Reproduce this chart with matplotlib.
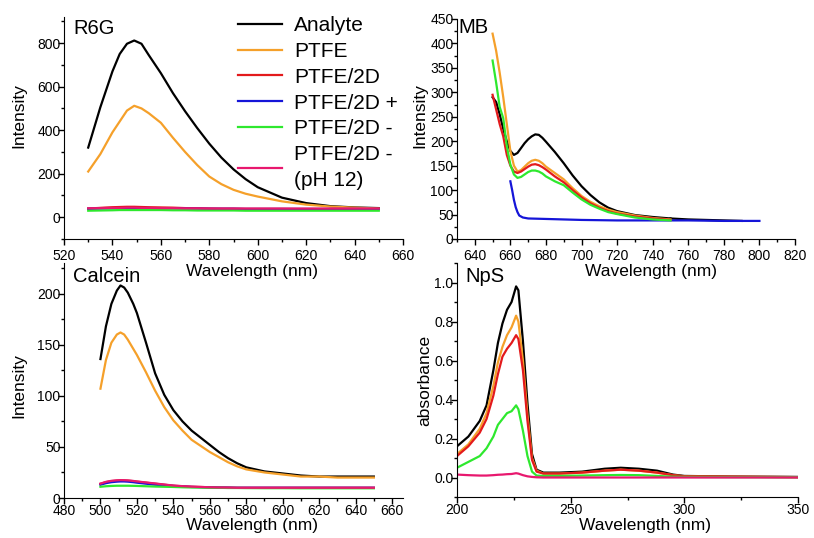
import matplotlib
matplotlib.use("Agg")
from matplotlib import pyplot as plt
from matplotlib.ticker import MultipleLocator

plt.rcParams["font.family"] = ["Liberation Sans", "DejaVu Sans"]

names = ["Analyte", "PTFE", "PTFE/2D", "PTFE/2D +", "PTFE/2D -", "PTFE/2D -\n(pH 12)"]
colors = ["black", "#F5A02A", "#E31A1C", "#1515D8", "#2EE82E", "#E8186E"]

# R6G
r6g_nm = [530, 535, 540, 543, 546, 549, 552, 555, 560, 565, 570, 575, 580, 585, 590,
          595, 600, 610, 620, 630, 640, 650]
r6g_analyte = [320, 505, 670, 750, 797, 812, 797, 745, 662, 570, 487, 410, 338, 274, 220,
               175, 138, 90, 65, 51, 45, 42]
r6g_ptfe = [210, 290, 390, 440, 490, 512, 500, 478, 434, 365, 300, 240, 187, 152, 126,
            108, 95, 73, 58, 49, 44, 40]
r6g_2d = [40, 43, 46, 47, 48, 48, 47, 46, 45, 44, 42, 41, 40, 39, 39,
          38, 38, 38, 37, 37, 37, 37]
r6g_2d_plus = [39, 40, 41, 42, 42, 42, 42, 42, 41, 41, 40, 40, 39, 39, 39,
               38, 38, 38, 38, 38, 38, 38]
r6g_2d_minus = [30, 31, 32, 33, 33, 33, 33, 33, 33, 32, 32, 31, 31, 31, 31,
                30, 30, 30, 30, 30, 30, 30]
r6g_ph12 = [41, 42, 43, 43, 44, 44, 43, 43, 42, 42, 41, 41, 40, 40, 40,
            40, 40, 40, 40, 40, 40, 40]

# MB
mb_nm = [650, 652, 654, 656, 658, 660, 662, 664, 666, 668, 670, 672, 674, 676, 678,
         680, 685, 690, 695, 700, 705, 710, 715, 720, 730, 740, 750]
mb_analyte = [290, 280, 255, 225, 200, 180, 172, 176, 186, 196, 204, 210, 214, 213, 207,
              199, 178, 155, 130, 108, 90, 75, 64, 57, 49, 45, 42]
mb_ptfe = [420, 385, 340, 290, 235, 180, 150, 138, 141, 148, 155, 160, 162, 160, 155,
           148, 135, 122, 104, 88, 76, 67, 60, 55, 48, 43, 40]
mb_2d = [295, 265, 235, 210, 172, 150, 138, 135, 138, 143, 148, 152, 153, 151, 147,
         142, 128, 116, 100, 85, 73, 64, 57, 52, 46, 42, 39]
mb_2d_minus = [365, 320, 270, 247, 190, 152, 132, 125, 127, 132, 137, 140, 140, 138, 134,
               128, 118, 110, 95, 81, 70, 62, 55, 51, 44, 40, 38]
mb_plus_nm = [660, 661, 662, 663, 664, 665, 667, 670, 680, 690, 700, 720, 740, 760, 780, 800]
mb_2d_plus = [118, 100, 80, 65, 55, 48, 44, 42, 41, 40, 39, 38, 38, 38, 37, 37]
mb_tail_nm = [750, 760, 770, 780, 790]
mb_analyte_tail = [42, 40, 39, 38, 37]

# Calcein
cal_nm = [500, 503, 506, 509, 511, 513, 515, 518, 520, 525, 530, 535, 540, 545, 550,
          555, 560, 565, 570, 575, 580, 590, 600, 610, 620, 630, 640, 650]
cal_analyte = [136, 168, 190, 203, 208, 206, 201, 190, 181, 152, 122, 101, 86, 75, 66,
               59, 52, 45, 39, 34, 30, 26, 24, 22, 21, 21, 21, 21]
cal_ptfe = [107, 135, 152, 160, 162, 160, 155, 146, 140, 123, 105, 89, 76, 66, 57,
            51, 45, 40, 35, 31, 28, 25, 23, 21, 21, 20, 20, 20]
cal_2d = [14, 15.5, 16.5, 17, 17.2, 17.2, 17, 16.5, 16, 15, 14, 13, 12, 11.5, 11,
          10.8, 10.5, 10.3, 10.2, 10, 10, 10, 10, 10, 10, 10, 10, 10]
cal_2d_plus = [13, 14.5, 15.5, 16, 16.2, 16.2, 16, 15.5, 15, 14, 13, 12.3, 11.8, 11.2, 10.8,
               10.6, 10.4, 10.2, 10.1, 10, 10, 10, 10, 10, 10, 10, 10, 10]
cal_2d_minus = [11, 11.5, 11.8, 12, 12, 12, 12, 11.9, 11.8, 11.5, 11.2, 11, 10.8, 10.5, 10.3,
                10.2, 10, 10, 9.8, 9.8, 9.7, 9.6, 9.6, 9.5, 9.5, 9.5, 9.5, 9.5]
cal_ph12 = [14, 15.8, 16.8, 17.3, 17.5, 17.4, 17.2, 16.7, 16.2, 15.2, 14.2, 13.2, 12.2, 11.6, 11.1,
            10.8, 10.5, 10.3, 10.2, 10, 10, 10, 10, 10, 10, 10, 10, 10]

# NpS
nps_nm = [200, 205, 210, 213, 216, 218, 220, 222, 224, 226, 227, 229, 231, 233, 235,
          238, 245, 255, 265, 272, 280, 288, 295, 300, 320, 350]
nps_analyte = [0.16, 0.21, 0.29, 0.37, 0.55, 0.69, 0.79, 0.86, 0.90, 0.98, 0.96, 0.70, 0.38, 0.12, 0.04,
               0.025, 0.025, 0.03, 0.045, 0.05, 0.045, 0.035, 0.015, 0.008, 0.005, 0.003]
nps_ptfe = [0.12, 0.17, 0.25, 0.33, 0.47, 0.59, 0.67, 0.73, 0.77, 0.83, 0.80, 0.60, 0.32, 0.10, 0.035,
            0.02, 0.02, 0.025, 0.035, 0.04, 0.035, 0.025, 0.012, 0.006, 0.004, 0.002]
nps_2d = [0.11, 0.16, 0.23, 0.30, 0.42, 0.53, 0.62, 0.66, 0.69, 0.73, 0.71, 0.55, 0.29, 0.09, 0.03,
          0.02, 0.02, 0.025, 0.035, 0.04, 0.035, 0.025, 0.012, 0.006, 0.004, 0.002]
nps_2d_minus = [0.05, 0.08, 0.11, 0.15, 0.21, 0.27, 0.30, 0.33, 0.34, 0.37, 0.35, 0.24, 0.11, 0.03, 0.01,
                0.008, 0.008, 0.01, 0.012, 0.013, 0.012, 0.008, 0.004, 0.003, 0.002, 0.001]
nps_ph12 = [0.015, 0.012, 0.01, 0.01, 0.012, 0.014, 0.015, 0.017, 0.018, 0.022, 0.02, 0.012, 0.006, 0.003, 0.001,
            0.0, 0.0, 0.0, 0.0, 0.0, 0.0, 0.0, 0.0, 0.0, 0.0, 0.0]

fig = plt.figure(figsize=(8.14, 5.38), dpi=100)
W, H = 814, 538


def make_axes(left, top, right, bottom):
    ax = fig.add_axes([left / W, 1 - bottom / H, (right - left) / W, (bottom - top) / H])
    ax.patch.set_alpha(0)
    for s in ["top", "right"]:
        ax.spines[s].set_visible(False)
    ax.tick_params(which="major", direction="out", length=4, width=1, labelsize=10)
    ax.tick_params(which="minor", direction="out", length=2.5, width=1)
    ax.tick_params(axis="y", pad=-1.5)
    ax.tick_params(axis="x", pad=0)
    return ax


lw = 1.6

# R6G
ax1 = make_axes(64, 17, 403, 239)
for y, c in zip([r6g_analyte, r6g_ptfe, r6g_2d, r6g_2d_plus, r6g_2d_minus, r6g_ph12], colors):
    ax1.plot(r6g_nm, y, color=c, lw=lw)
ax1.set_xlim(520, 660)
ax1.set_ylim(-100, 920)
ax1.xaxis.set_major_locator(MultipleLocator(20))
ax1.xaxis.set_minor_locator(MultipleLocator(10))
ax1.yaxis.set_major_locator(MultipleLocator(200))
ax1.yaxis.set_minor_locator(MultipleLocator(100))
ax1.tick_params(axis="x", pad=3)
ax1.set_xlabel("Wavelength (nm)", fontsize=12.5)
ax1.set_ylabel("Intensity", fontsize=12.5)
ax1.xaxis.set_label_coords((252 - 64) / 339, -(264 - 239) / 222)
ax1.yaxis.set_label_coords(-(64 - 26) / 339, (239 - 116) / 222)
fig.text(73 / W, 1 - 29 / H, "R6G", fontsize=14.5, va="center")

# MB
ax2 = make_axes(457, 19, 795, 239)
ax2.plot(mb_nm, mb_analyte, color=colors[0], lw=lw)
ax2.plot(mb_tail_nm, mb_analyte_tail, color=colors[0], lw=lw)
ax2.plot(mb_plus_nm, mb_2d_plus, color=colors[3], lw=lw)
ax2.plot(mb_nm, mb_ptfe, color=colors[1], lw=lw)
ax2.plot(mb_nm, mb_2d, color=colors[2], lw=lw)
ax2.plot(mb_nm, mb_2d_minus, color=colors[4], lw=lw)
ax2.set_xlim(630, 820)
ax2.set_ylim(0, 450)
ax2.set_xticks(range(640, 821, 20))
ax2.xaxis.set_minor_locator(MultipleLocator(10))
ax2.yaxis.set_major_locator(MultipleLocator(50))
ax2.yaxis.set_minor_locator(MultipleLocator(25))
ax2.tick_params(axis="x", pad=3)
ax2.set_xlabel("Wavelength (nm)", fontsize=12.5)
ax2.set_ylabel("Intensity", fontsize=12.5)
ax2.xaxis.set_label_coords((651 - 457) / 338, -(264 - 239) / 220)
ax2.yaxis.set_label_coords(-(457 - 427) / 338, (239 - 116) / 220)
fig.text(458 / W, 1 - 28 / H, "MB", fontsize=14.5, va="center")

# Calcein
ax3 = make_axes(64, 263, 403, 498)
for y, c in zip([cal_analyte, cal_ptfe, cal_2d, cal_2d_plus, cal_2d_minus, cal_ph12], colors):
    ax3.plot(cal_nm, y, color=c, lw=lw)
ax3.set_xlim(480, 666)
ax3.set_ylim(0, 230)
ax3.set_xticks(range(480, 661, 20))
ax3.xaxis.set_minor_locator(MultipleLocator(10))
ax3.yaxis.set_major_locator(MultipleLocator(50))
ax3.yaxis.set_minor_locator(MultipleLocator(25))
ax3.set_xlabel("Wavelength (nm)", fontsize=12.5)
ax3.set_ylabel("Intensity", fontsize=12.5)
ax3.xaxis.set_label_coords((252 - 64) / 339, -(518 - 498) / 235)
ax3.yaxis.set_label_coords(-(64 - 26) / 339, (498 - 386) / 235)
fig.text(73 / W, 1 - 276 / H, "Calcein", fontsize=14.5, va="center")

# NpS
ax4 = make_axes(457, 263, 798, 497)
for y, c in zip([nps_analyte, nps_ptfe, nps_2d, nps_2d_minus, nps_ph12],
                [colors[0], colors[1], colors[2], colors[4], colors[5]]):
    ax4.plot(nps_nm, y, color=c, lw=lw)
ax4.set_xlim(200, 350)
ax4.set_ylim(-0.1, 1.1)
ax4.xaxis.set_major_locator(MultipleLocator(50))
ax4.xaxis.set_minor_locator(MultipleLocator(25))
ax4.yaxis.set_major_locator(MultipleLocator(0.2))
ax4.yaxis.set_minor_locator(MultipleLocator(0.1))
ax4.yaxis.set_major_formatter(lambda v, p: f"{v:.1f}")
ax4.set_xlabel("Wavelength (nm)", fontsize=12.5)
ax4.set_ylabel("absorbance", fontsize=12.5)
ax4.xaxis.set_label_coords((645 - 457) / 341, -(518 - 497) / 234)
ax4.yaxis.set_label_coords(-(457 - 432) / 341, (497 - 380) / 234)
fig.text(465 / W, 1 - 276 / H, "NpS", fontsize=14.5, va="center")

# legend
handles = [plt.Line2D([], [], color=c, lw=1.6) for c in colors]
leg = fig.legend(handles, names, loc="upper left", bbox_to_anchor=(238 / W, 1 - 16 / H),
                 frameon=False, fontsize=15, handlelength=2.1, handletextpad=0.6,
                 labelspacing=0.33, borderpad=0, borderaxespad=0)
for t in leg.get_texts():
    t.set_linespacing(1.45)

plt.savefig("out.png", dpi=100)
